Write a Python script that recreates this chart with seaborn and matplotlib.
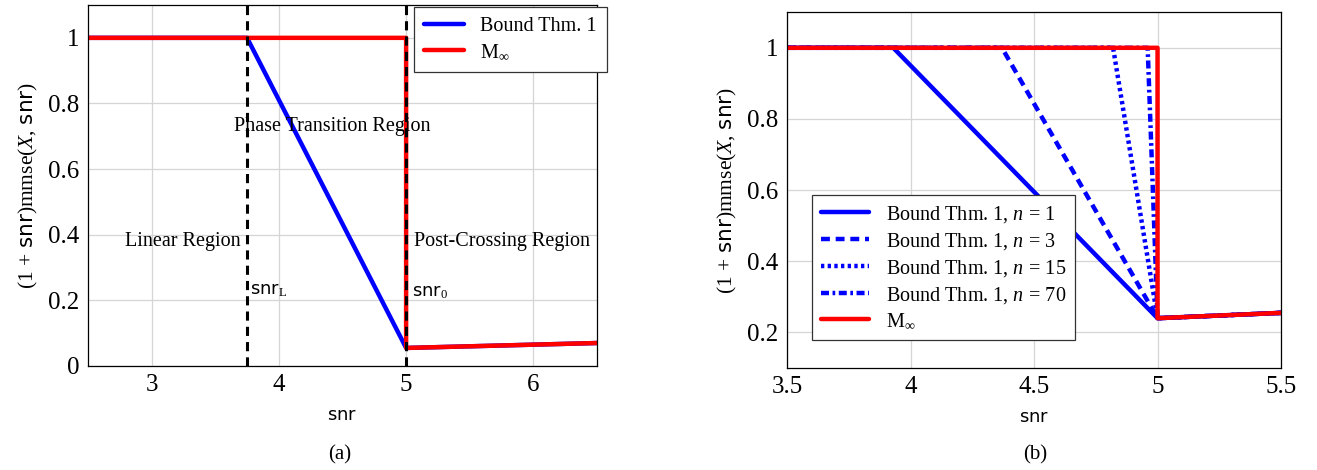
import numpy as np
import pandas as pd
import matplotlib.pyplot as plt
import seaborn as sns

sns.set_theme(style="whitegrid")
plt.rcParams['font.family'] = ['Liberation Serif', 'DejaVu Sans']
plt.rcParams['mathtext.fontset'] = 'custom'
plt.rcParams['mathtext.rm'] = 'Liberation Serif'
plt.rcParams['mathtext.it'] = 'Liberation Serif:italic'
plt.rcParams['mathtext.sf'] = 'DejaVu Sans'
plt.rcParams['text.color'] = 'black'
plt.rcParams['axes.labelcolor'] = 'black'
plt.rcParams['xtick.color'] = 'black'
plt.rcParams['ytick.color'] = 'black'

# (a) data
snr_a_bound = [2.5, 3.75, 5.0, 6.5]
val_a_bound = [1.0, 1.0, 0.055, 0.07]
snr_a_minf = [2.5, 5.0, 5.0, 6.5]
val_a_minf = [1.0, 1.0, 0.055, 0.07]
snr_L = 3.75
snr_0 = 5.0

# (b) data
snr_b_n1 = [3.5, 3.93, 5.0, 5.5]
val_b_n1 = [1.0, 1.0, 0.24, 0.255]
snr_b_n3 = [3.5, 4.37, 5.0, 5.5]
val_b_n3 = [1.0, 1.0, 0.24, 0.255]
snr_b_n15 = [3.5, 4.82, 5.0, 5.5]
val_b_n15 = [1.0, 1.0, 0.24, 0.255]
snr_b_n70 = [3.5, 4.96, 5.0, 5.5]
val_b_n70 = [1.0, 1.0, 0.24, 0.255]
snr_b_minf = [3.5, 5.0, 5.0, 5.5]
val_b_minf = [1.0, 1.0, 0.24, 0.255]

blue = (0, 0, 1)
red = (1, 0, 0)
ylab = r"$(1\,+\,\mathsf{snr})\mathrm{mmse}(X,\,\mathsf{snr})$"
minf = r"M$_{\infty}$"


def draw(ax, x, y, **kw):
    df = pd.DataFrame({"snr": x, "v": y})
    sns.lineplot(data=df, x="snr", y="v", ax=ax, estimator=None, sort=False,
                 lw=3.2, **kw)


def style(ax):
    ax.grid(True, color="#d5d5d5", lw=0.9)
    for s in ax.spines.values():
        s.set_color("black")
        s.set_linewidth(0.9)
    ax.tick_params(axis="both", labelsize=18, direction="in", length=3,
                   color="black", pad=6)
    ax.set_xlabel(r"$\mathsf{snr}$", fontsize=13, labelpad=8)
    ax.set_ylabel(ylab, fontsize=15.5, labelpad=6)


fig = plt.figure(figsize=(13.17, 4.70), dpi=100)
ax1 = fig.add_axes([0.0668, 0.2213, 0.3865, 0.768])
ax2 = fig.add_axes([0.5976, 0.217, 0.3751, 0.757])

# ---- (a)
draw(ax1, snr_a_bound, val_a_bound, color=blue, label="Bound Thm. 1")
draw(ax1, snr_a_minf, val_a_minf, color=red, label=minf)
for xv in [snr_L, snr_0]:
    ax1.axvline(xv, color="black", lw=2.2, ls=(0, (3, 2)))
ax1.set_xlim(2.5, 6.5)
ax1.set_ylim(0, 1.1)
ax1.set_xticks([3, 4, 5, 6])
ax1.set_yticks([0, 0.2, 0.4, 0.6, 0.8, 1])
ax1.set_yticklabels(["0", "0.2", "0.4", "0.6", "0.8", "1"])
style(ax1)
ax1.text(2.79, 0.38, "Linear Region", fontsize=14.5, va="center")
ax1.text(3.65, 0.73, "Phase Transition Region", fontsize=14.5, va="center")
ax1.text(5.06, 0.38, "Post-Crossing Region", fontsize=14.5, va="center")
ax1.text(3.77, 0.23, r"$\mathsf{snr}_{\mathrm{L}}$", fontsize=13, va="center")
ax1.text(5.05, 0.225, r"$\mathsf{snr}_{0}$", fontsize=13, va="center")
leg1 = ax1.legend(loc="upper right", bbox_to_anchor=(1.0197, 0.9945), fontsize=14.5,
                  fancybox=False, framealpha=1, edgecolor="#333333",
                  handlelength=2.0, borderpad=0.5, labelspacing=0.35,
                  borderaxespad=0)
leg1.get_frame().set_linewidth(0.9)

# ---- (b)
draw(ax2, snr_b_n1, val_b_n1, color=blue, label=r"Bound Thm. 1, $n\,=\,1$")
draw(ax2, snr_b_n3, val_b_n3, color=blue, ls=(0, (2.0, 1.3)),
     label=r"Bound Thm. 1, $n\,=\,3$")
draw(ax2, snr_b_n15, val_b_n15, color=blue, ls=(0, (0.75, 0.75)),
     label=r"Bound Thm. 1, $n\,=\,15$")
draw(ax2, snr_b_n70, val_b_n70, color=blue, ls=(0, (1.8, 0.8, 0.6, 0.8)),
     label=r"Bound Thm. 1, $n\,=\,70$")
draw(ax2, snr_b_minf, val_b_minf, color=red, label=minf)
ax2.set_xlim(3.5, 5.5)
ax2.set_ylim(0.1, 1.1)
ax2.set_xticks([3.5, 4, 4.5, 5, 5.5])
ax2.set_xticklabels(["3.5", "4", "4.5", "5", "5.5"])
ax2.set_yticks([0.2, 0.4, 0.6, 0.8, 1])
ax2.set_yticklabels(["0.2", "0.4", "0.6", "0.8", "1"])
style(ax2)
leg2 = ax2.legend(loc="lower left", bbox_to_anchor=(0.0506, 0.0787), fontsize=14.5,
                  fancybox=False, framealpha=1, edgecolor="#333333",
                  handlelength=2.4, borderpad=0.45, labelspacing=0.3,
                  borderaxespad=0)
leg2.get_frame().set_linewidth(0.9)

fig.text(340 / 1317, 1 - 455 / 470, "(a)", fontsize=15, ha="center", va="center")
fig.text(1035 / 1317, 1 - 455 / 470, "(b)", fontsize=15, ha="center", va="center")

fig.savefig("out.png", dpi=100)
